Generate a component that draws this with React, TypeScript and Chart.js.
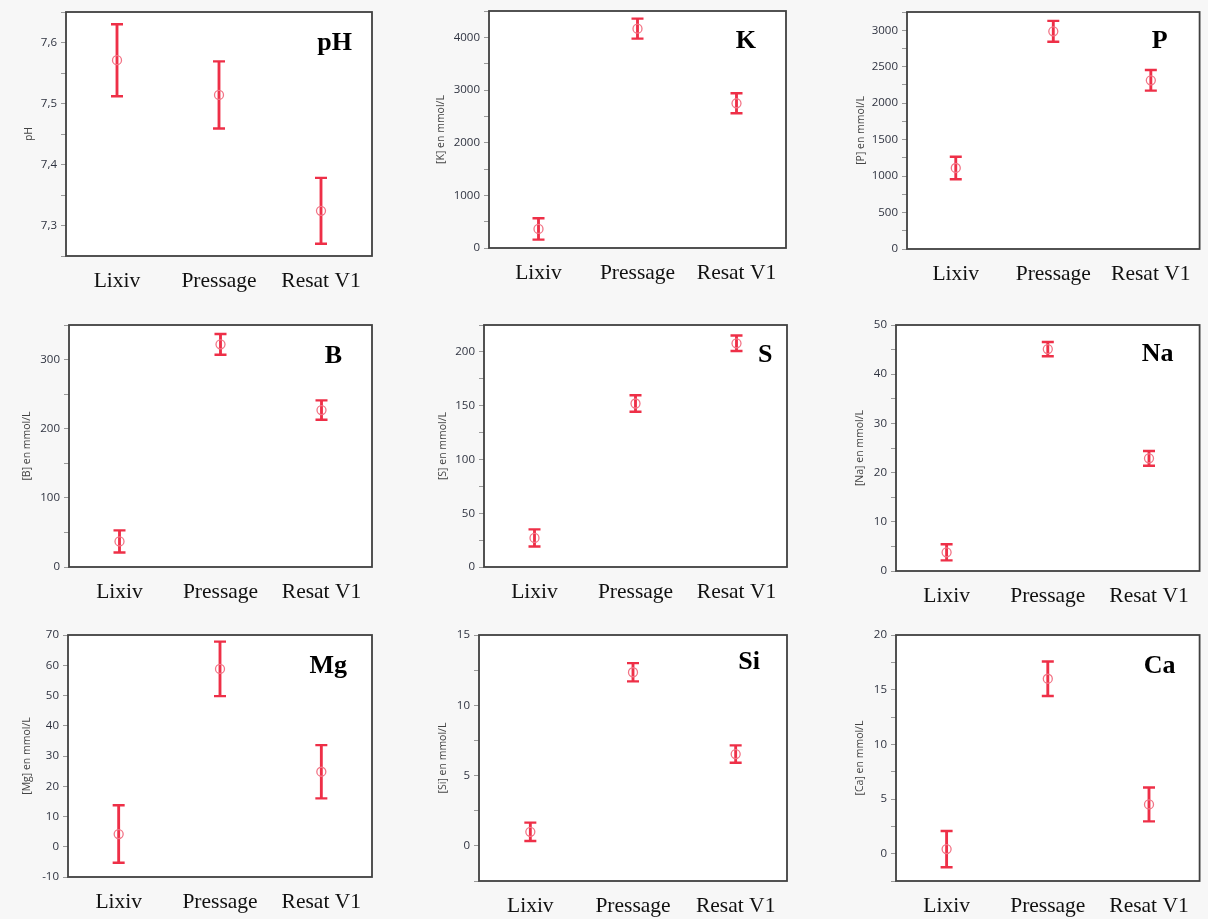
import React, { useEffect, useRef } from "react";
import { Chart, registerables } from "chart.js";

Chart.register(...registerables);

// ---------- data ----------
const categories = ["Lixiv", "Pressage", "Resat V1"];

const phMeans = [7.571, 7.514, 7.324];
const phErrors = [0.059, 0.055, 0.054];

const kMeans = [362, 4165, 2748];
const kErrors = [203, 190, 190];

const pMeans = [1111, 2985, 2313];
const pErrors = [155, 143, 141];

const bMeans = [37, 322, 227];
const bErrors = [16, 15, 14];

const sMeans = [27, 152, 208];
const sErrors = [8, 7.7, 7.2];

const naMeans = [3.8, 45.1, 22.9];
const naErrors = [1.65, 1.45, 1.5];

const mgMeans = [4.2, 58.8, 24.8];
const mgErrors = [9.5, 9, 8.8];

const siMeans = [1.0, 12.35, 6.53];
const siErrors = [0.65, 0.65, 0.62];

const caMeans = [0.42, 16.0, 4.5];
const caErrors = [1.66, 1.58, 1.55];

// axis settings: [min, max, step, labelEvery]
const phAxis = [7.25, 7.65, 0.05, 0.1];
const kAxis = [0, 4500, 500, 1000];
const pAxis = [0, 3250, 250, 500];
const bAxis = [0, 350, 50, 100];
const sAxis = [0, 225, 25, 50];
const naAxis = [0, 50, 5, 10];
const mgAxis = [-10, 70, 10, 10];
const siAxis = [-2.5, 15, 2.5, 5];
const caAxis = [-2.5, 20, 2.5, 5];

const panelNames = ["pH", "K", "P", "B", "S", "Na", "Mg", "Si", "Ca"];
const axisTitles = [
  "pH",
  "[K] en mmol/L",
  "[P] en mmol/L",
  "[B] en mmol/L",
  "[S] en mmol/L",
  "[Na] en mmol/L",
  "[Mg] en mmol/L",
  "[Si] en mmol/L",
  "[Ca] en mmol/L",
];
const allMeans = [phMeans, kMeans, pMeans, bMeans, sMeans, naMeans, mgMeans, siMeans, caMeans];
const allErrors = [phErrors, kErrors, pErrors, bErrors, sErrors, naErrors, mgErrors, siErrors, caErrors];
const allAxes = [phAxis, kAxis, pAxis, bAxis, sAxis, naAxis, mgAxis, siAxis, caAxis];

// ---------- layout (pixels) ----------
type Layout = {
  cx: number; cy: number; w: number; h: number;
  left: number; top: number; right: number; bottom: number;
  titleX: number; labelRight: number; labelBase: number;
};
const layouts: Layout[] = [
  { cx: 0, cy: 0, w: 400, h: 305, left: 66, top: 12, right: 372, bottom: 256, titleX: 29.5, labelRight: 20, labelBase: 38 },
  { cx: 400, cy: 0, w: 400, h: 305, left: 489, top: 11, right: 786, bottom: 248, titleX: 441.5, labelRight: 30, labelBase: 37 },
  { cx: 800, cy: 0, w: 408, h: 305, left: 907, top: 12, right: 1204, bottom: 249, titleX: 861, labelRight: 32, labelBase: 36 },
  { cx: 0, cy: 305, w: 400, h: 310, left: 69, top: 325, right: 372, bottom: 567, titleX: 27, labelRight: 30, labelBase: 37.5 },
  { cx: 400, cy: 305, w: 400, h: 310, left: 484, top: 325, right: 787, bottom: 567, titleX: 443, labelRight: 14.5, labelBase: 37 },
  { cx: 800, cy: 305, w: 408, h: 310, left: 896, top: 325, right: 1204, bottom: 571, titleX: 860, labelRight: 26, labelBase: 36 },
  { cx: 0, cy: 615, w: 400, h: 304, left: 68, top: 635, right: 372, bottom: 877, titleX: 27, labelRight: 25, labelBase: 38 },
  { cx: 400, cy: 615, w: 400, h: 304, left: 479, top: 635, right: 787, bottom: 881, titleX: 443, labelRight: 27, labelBase: 34 },
  { cx: 800, cy: 615, w: 408, h: 304, left: 896, top: 635, right: 1204, bottom: 881, titleX: 860, labelRight: 24, labelBase: 37.5 },
];

const BAR_RED = "#ee2f47";
const MEAN_PINK = "#f27486";
const BG = "#f7f7f7";

function Panel({ index }: { index: number }) {
  const ref = useRef<HTMLCanvasElement | null>(null);
  const L = layouts[index];

  useEffect(() => {
    const canvas = ref.current;
    if (!canvas) return;
    const means = allMeans[index];
    const errs = allErrors[index];
    const [min, max, step, every] = allAxes[index];
    const isPh = index === 0;
    const name = panelNames[index];

    const frame = {
      id: "frame",
      beforeDraw(chart: any) {
        const { ctx, chartArea: a } = chart;
        ctx.save();
        ctx.fillStyle = BG;
        ctx.fillRect(0, 0, chart.width, chart.height);
        ctx.fillStyle = "#ffffff";
        ctx.fillRect(a.left, a.top, a.right - a.left, a.bottom - a.top);
        ctx.restore();
      },
      afterDraw(chart: any) {
        const { ctx, chartArea: a } = chart;
        ctx.save();
        ctx.strokeStyle = "#404040";
        ctx.lineWidth = 1.8;
        ctx.strokeRect(a.left, a.top, a.right - a.left, a.bottom - a.top);
        ctx.font = 'bold 26px "Liberation Serif", "Times New Roman", serif';
        ctx.fillStyle = "#000";
        ctx.textAlign = "right";
        ctx.textBaseline = "alphabetic";
        ctx.fillText(name, a.right - L.labelRight, a.top + L.labelBase);
        ctx.restore();
      },
    };

    const chart = new Chart(canvas, {
      type: "bar",
      data: {
        labels: categories,
        datasets: [
          {
            type: "line",
            data: means,
            showLine: false,
            pointStyle: "circle",
            pointRadius: 4.5,
            pointBorderWidth: 1.3,
            pointBorderColor: MEAN_PINK,
            pointBackgroundColor: "rgba(0,0,0,0)",
            order: 1,
          } as any,
          {
            type: "line",
            data: means.map((m, i) => m + errs[i]),
            showLine: false,
            pointStyle: "line",
            pointRadius: 6,
            pointBorderWidth: 2.4,
            pointBorderColor: BAR_RED,
            order: 2,
          } as any,
          {
            type: "line",
            data: means.map((m, i) => m - errs[i]),
            showLine: false,
            pointStyle: "line",
            pointRadius: 6,
            pointBorderWidth: 2.4,
            pointBorderColor: BAR_RED,
            order: 2,
          } as any,
          {
            type: "bar",
            data: means.map((m, i) => [m - errs[i], m + errs[i]]),
            backgroundColor: BAR_RED,
            borderWidth: 0,
            barThickness: 2.2,
            order: 3,
          } as any,
        ],
      },
      options: {
        animation: false,
        responsive: false,
        events: [],
        layout: {
          padding: { left: 0, top: L.top - L.cy, right: L.cx + L.w - L.right, bottom: 0 },
        },
        plugins: { legend: { display: false }, tooltip: { enabled: false } },
        scales: {
          x: {
            offset: true,
            grid: { display: false, drawTicks: false },
            border: { display: false },
            ticks: {
              padding: 12.5,
              color: "#111",
              font: { family: '"Liberation Serif", "Times New Roman", serif', size: 21.5 },
              maxRotation: 0,
            },
            afterFit: (scale: any) => {
              scale.height = L.cy + L.h - L.bottom;
            },
          },
          y: {
            min,
            max,
            grid: { drawOnChartArea: false, drawTicks: true, tickLength: 5, color: "#9a9a9a" },
            border: { display: false },
            ticks: {
              stepSize: step,
              padding: 4,
              color: "#2f3340",
              font: { family: '"Open Sans", sans-serif', size: 11.5 },
              callback: (v: any) => {
                const r = v / every;
                if (Math.abs(r - Math.round(r)) > 1e-6) return "";
                if (isPh) return (Math.round(v * 10) / 10).toFixed(1).replace(".", ",");
                return String(Math.round(v));
              },
            },
            title: {
              display: true,
              text: axisTitles[index],
              color: "#444",
              font: { family: '"Open Sans", sans-serif', size: 10.5 },
              padding: { top: L.titleX - L.cx - 6.3, bottom: 0 },
            },
            afterFit: (scale: any) => {
              scale.width = L.left - L.cx;
            },
          },
        },
      } as any,
      plugins: [frame],
    });
    return () => chart.destroy();
  }, [index]);

  return (
    <canvas
      ref={ref}
      width={L.w}
      height={L.h}
      style={{ position: "absolute", left: L.cx, top: L.cy, width: L.w, height: L.h }}
    />
  );
}

export default function App() {
  return (
    <div
      style={{
        position: "absolute",
        left: 0,
        top: 0,
        width: 1208,
        height: 919,
        background: BG,
        overflow: "hidden",
      }}
    >
      {layouts.map((_, i) => (
        <Panel key={i} index={i} />
      ))}
    </div>
  );
}
